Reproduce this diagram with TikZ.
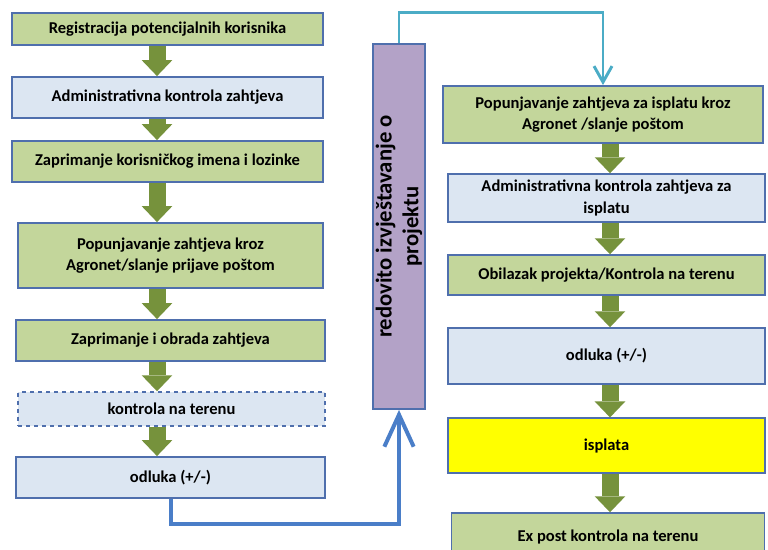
\documentclass[tikz,border=0pt]{standalone}
\usepackage{fontspec}
\setmainfont{Carlito}
\usetikzlibrary{arrows.meta}

\definecolor{boxgreen}{HTML}{C3D69B}
\definecolor{boxblue}{HTML}{DCE6F2}
\definecolor{boxborder}{HTML}{4F6FAD}
\definecolor{flowgreen}{HTML}{76923C}
\definecolor{reportpurple}{HTML}{B3A2C7}
\definecolor{reportcyan}{HTML}{4BACC6}
\definecolor{decisionblue}{HTML}{4A7EC8}
\definecolor{payyellow}{HTML}{FFFF00}

\tikzset{
	box/.style={draw=boxborder, line width=1.1pt, align=center, inner sep=0pt, font=\bfseries\fontsize{12.4}{16}\selectfont},
	greenbox/.style={box, fill=boxgreen},
	bluebox/.style={box, fill=boxblue},
	flow/.style={draw=flowgreen, line width=12.75pt, -{Triangle[width=23pt,length=12pt,line width=0pt,fill=flowgreen]}},
	reportline/.style={draw=reportcyan, line width=2.2pt, -{Straight Barb[width=13.5pt,length=12pt]}},
	decisionline/.style={draw=decisionblue, line width=3pt, -{Straight Barb[width=22pt,length=24pt]}}
}

\begin{document}
\begin{tikzpicture}[x=0.75pt,y=-0.75pt]
	
	\useasboundingbox (0,0) rectangle (768,550);
	
	\coordinate (lx) at (157,0);
	\coordinate (rx) at (610,0);
	
	\node[greenbox, minimum width=233pt, minimum height=24pt] (reg) at (167.5,29) {Registracija potencijalnih korisnika};
	\node[bluebox, minimum width=233pt, minimum height=31pt] (admin) at (167.5,97.5) {Administrativna kontrola zahtjeva};
	\node[greenbox, minimum width=233pt, minimum height=31pt] (zapr) at (167.5,161.5) {Zaprimanje korisničkog imena i lozinke};
	\node[greenbox, minimum width=229pt, minimum height=49pt] (popun) at (170.5,255.5) {Popunjavanje zahtjeva kroz\\Agronet/slanje prijave poštom};
	\node[greenbox, minimum width=232pt, minimum height=31pt] (obrada) at (170.5,340.5) {Zaprimanje i obrada zahtjeva};
	\node[bluebox, dashed, minimum width=230pt, minimum height=25.5pt] (teren) at (171.5,409) {kontrola na terenu};
	\node[bluebox, minimum width=232pt, minimum height=31pt] (odluka) at (170.5,477.5) {odluka (+/-)};
	
	\node[box, fill=reportpurple, rotate=90, minimum width=274pt, minimum height=39pt, font=\bfseries\fontsize{17}{20}\selectfont] (izv) at (399,226.5) {redovito izvještavanje o\\projektu};
	
	\node[greenbox, minimum width=240pt, minimum height=43pt] (rpopun) at (603,114.5) {Popunjavanje zahtjeva za isplatu kroz\\Agronet /slanje poštom};
	\node[bluebox, minimum width=238pt, minimum height=36pt] (radmin) at (606.5,198) {Administrativna kontrola zahtjeva za\\isplatu};
	\node[greenbox, minimum width=238pt, minimum height=30pt] (obilazak) at (606.5,275) {Obilazak projekta/Kontrola na terenu};
	\node[bluebox, minimum width=238pt, minimum height=42pt] (rodluka) at (606.5,356) {odluka (+/-)};
	\node[box, fill=payyellow, minimum width=238pt, minimum height=41pt] (isplata) at (606.5,445.5) {isplata};
	\node[greenbox, minimum width=235pt, minimum height=36pt] (expost) at (608,537) {Ex post kontrola na terenu};
	
	\draw[flow] (reg.south -| lx) -- (admin.north -| lx);
	\draw[flow] (admin.south -| lx) -- (zapr.north -| lx);
	\draw[flow] (zapr.south -| lx) -- (popun.north -| lx);
	\draw[flow] (popun.south -| lx) -- (obrada.north -| lx);
	\draw[flow] (obrada.south -| lx) -- (teren.north -| lx);
	\draw[flow] (teren.south -| lx) -- (odluka.north -| lx);
	
	\draw[flow] (rpopun.south -| rx) -- (radmin.north -| rx);
	\draw[flow] (radmin.south -| rx) -- (obilazak.north -| rx);
	\draw[flow] (obilazak.south -| rx) -- (rodluka.north -| rx);
	\draw[flow] (rodluka.south -| rx) -- (isplata.north -| rx);
	\draw[flow] (isplata.south -| rx) -- (expost.north -| rx);
	
	\draw[decisionline] (odluka.south) -- ++(0,25) -| (izv.west);
	\draw[reportline] (izv.east) -- ++(0,-31) -| (rpopun.north);
	
\end{tikzpicture}
\end{document}
